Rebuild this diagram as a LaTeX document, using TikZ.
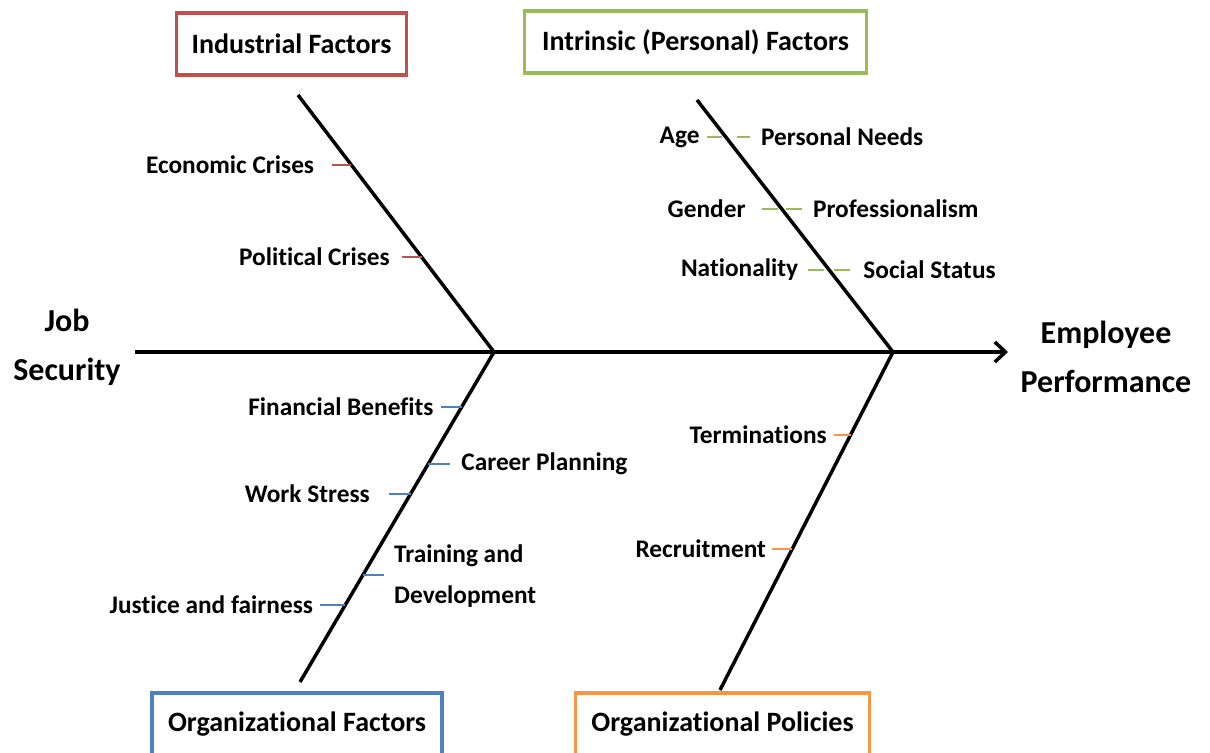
\documentclass[tikz,border=0pt]{standalone}
\usepackage{fontspec}
\setmainfont{Carlito}[Ligatures=NoCommon]
\usetikzlibrary{calc,arrows.meta}
\definecolor{indred}{HTML}{C0504D}
\definecolor{intgreen}{HTML}{9BBB59}
\definecolor{orgblue}{HTML}{4F81BD}
\definecolor{polorange}{HTML}{F79646}
\tikzstyle{category} = [rectangle, draw, line width=2.3pt, fill=white,
    font=\bfseries\fontsize{21}{25}\selectfont, minimum height=46.5pt]
\tikzstyle{cause} = [inner sep=0pt, font=\bfseries\fontsize{19}{31}\selectfont]
\tikzstyle{effect} = [inner sep=0pt, align=center, font=\bfseries\fontsize{24}{37}\selectfont]
\tikzstyle{bone} = [line width=2.6pt]
\tikzstyle{tick} = [line width=0.8pt]

\begin{document}
\begin{tikzpicture}[x=0.75pt,y=-0.75pt]
    \clip (0,0) rectangle (1210,753);

    \node[category, draw=indred, minimum width=173pt] (industrial) at (291.5,44) {Industrial Factors};
    \node[category, draw=intgreen, minimum width=256pt] (intrinsic) at (695.5,42) {Intrinsic (Personal) Factors};
    \node[category, draw=orgblue, minimum width=217.5pt] (organizational) at (297,724) {Organizational Factors};
    \node[category, draw=polorange, minimum width=220pt] (policies) at (722.5,724) {Organizational Policies};

    \node[effect] (security) at (67,347) {Job\\Security};
    \node[effect] (performance) at (1106,357) {Employee\\Performance};

    % spine and bones
    \coordinate (tail) at (135,352);
    \coordinate (head) at (1008,352);
    \coordinate (jL) at (494,352);
    \coordinate (jR) at (893,352);
    \coordinate (indTop) at (298,95);
    \coordinate (intTop) at (697,100);
    \coordinate (orgBot) at (300,682);
    \coordinate (polBot) at (720,690);

    \path[draw,bone,-{Straight Barb[length=8pt,width=15pt]}] (tail) -- (head);
    \path[draw,bone] (indTop) -- (jL);
    \path[draw,bone] (intTop) -- (jR);
    \path[draw,bone] (jL) -- (orgBot);
    \path[draw,bone] (jR) -- (polBot);

    % industrial factors
    \coordinate (econB) at (351.4,165);
    \coordinate (poliB) at (421.5,257);
    \node[cause, anchor=east] (econ) at ($(econB)+(-37,0)$) {Economic Crises};
    \node[cause, anchor=east] (poli) at ($(poliB)+(-31.5,0)$) {Political Crises};
    \draw[tick,indred] (econ.east) ++(18,0) -- (econB);
    \draw[tick,indred] (poli.east) ++(12,0) -- (poliB);

    % intrinsic factors
    \coordinate (ageB) at (725.8,137);
    \coordinate (genB) at (781.8,209);
    \coordinate (natB) at (829.2,270);
    \node[cause, anchor=east] (age) at ($(ageB)+(-26,0)$) {Age};
    \node[cause, anchor=west] (needs) at ($(ageB)+(35,0)$) {Personal Needs};
    \node[cause, anchor=east] (gender) at ($(genB)+(-36,0)$) {Gender};
    \node[cause, anchor=west] (prof) at ($(genB)+(31,0)$) {Professionalism};
    \node[cause, anchor=east] (nation) at ($(natB)+(-31,0)$) {Nationality};
    \node[cause, anchor=west] (social) at ($(natB)+(34,0)$) {Social Status};
    \draw[tick,intgreen] (age.east) ++(7,0) -- ++(15,0);
    \draw[tick,intgreen] (needs.west) ++(-11,0) -- ++(-13,0);
    \draw[tick,intgreen] (gender.east) ++(16,0) -- ++(16,0);
    \draw[tick,intgreen] (prof.west) ++(-11,0) -- ++(-16,0);
    \draw[tick,intgreen] (nation.east) ++(10,0) -- ++(16,0);
    \draw[tick,intgreen] (social.west) ++(-13,0) -- ++(-16,0);

    % organizational factors
    \coordinate (finB) at (461.7,407);
    \coordinate (carB) at (428.1,464);
    \coordinate (workB) at (410.5,494);
    \coordinate (trainB) at (362.9,575);
    \coordinate (justB) at (345.2,605);
    \node[cause, anchor=east] (fin) at ($(finB)+(-28,0)$) {Financial Benefits};
    \node[cause, anchor=west] (career) at ($(carB)+(33,0)$) {Career Planning};
    \node[cause, anchor=east] (work) at ($(workB)+(-40.5,0)$) {Work Stress};
    \node[cause, anchor=west, align=left] (train) at ($(trainB)+(31,1)$) {Training and\\Development};
    \node[cause, anchor=east] (justice) at ($(justB)+(-32,0)$) {Justice and fairness};
    \draw[tick,orgblue] (fin.east) ++(7,0) -- (finB);
    \draw[tick,orgblue] (career.west) ++(-11,0) -- (carB);
    \draw[tick,orgblue] (work.east) ++(19,0) -- (workB);
    \draw[tick,orgblue] (trainB) -- ++(21,0);
    \draw[tick,orgblue] (justice.east) ++(7,0) -- (justB);

    % organizational policies
    \coordinate (termB) at (850.5,435);
    \coordinate (recB) at (792.2,549);
    \node[cause, anchor=east] (term) at ($(termB)+(-23.5,0)$) {Terminations};
    \node[cause, anchor=east] (recruit) at ($(recB)+(-26,0)$) {Recruitment};
    \draw[tick,polorange] (term.east) ++(7,0) -- (termB);
    \draw[tick,polorange] (recruit.east) ++(6,0) -- (recB);
\end{tikzpicture}
\end{document}
